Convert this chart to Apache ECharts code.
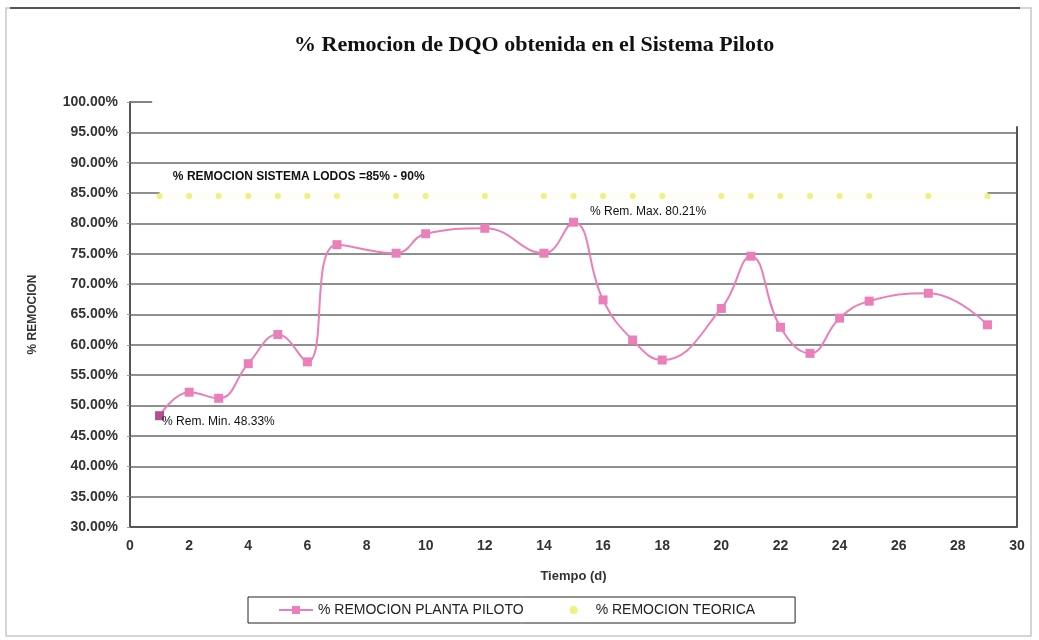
<!DOCTYPE html>
<html>
<head>
<meta charset="utf-8">
<script src="https://cdn.jsdelivr.net/npm/echarts@6/dist/echarts.min.js"></script>
<style>
  html, body { margin: 0; padding: 0; background: #fff; }
  #chart { width: 1039px; height: 640px; }
</style>
</head>
<body>
<div id="chart"></div>
<script>
// Días de operación del sistema piloto
const dias = [1, 2, 3, 4, 5, 6, 7, 9, 10, 12, 14, 15, 16, 17, 18, 20, 21, 22, 23, 24, 25, 27, 29];
// % de remoción de DQO medido en la planta piloto
const remocionPiloto = [48.33, 52.2, 51.2, 56.9, 61.7, 57.2, 76.5, 75.1, 78.3, 79.2, 75.1, 80.21,
  67.4, 60.8, 57.5, 66.0, 74.6, 62.9, 58.6, 64.4, 67.2, 68.5, 63.3];
// % de remoción teórico del sistema de lodos
const remocionTeorica = [84.5, 84.5, 84.5, 84.5, 84.5, 84.5, 84.5, 84.5, 84.5, 84.5, 84.5, 84.5,
  84.5, 84.5, 84.5, 84.5, 84.5, 84.5, 84.5, 84.5, 84.5, 84.5, 84.5];
// Ejes
const ejeX = { min: 0, max: 30, intervalo: 2 };
const ejeY = { min: 30, max: 100, intervalo: 5 };
const textoSistema = '% REMOCION SISTEMA LODOS =85% - 90%';

const idxMax = remocionPiloto.indexOf(Math.max(...remocionPiloto));
const idxMin = remocionPiloto.indexOf(Math.min(...remocionPiloto));

const PINK = '#ea7fba';
const fontSans = 'Liberation Sans, Arial, sans-serif';

const datosPiloto = dias.map((d, i) => {
  const item = { value: [d, remocionPiloto[i]] };
  if (i === idxMax) {
    item.label = {
      show: true, position: 'right', distance: 4, offset: [8, -10],
      formatter: '% Rem. Max. ' + remocionPiloto[i].toFixed(2) + '%',
      fontFamily: fontSans, fontSize: 12, color: '#111'
    };
  }
  if (i === idxMin) {
    item.itemStyle = { color: '#b4508f' };
    item.label = {
      show: true, position: 'right', distance: 0, offset: [-2, 6],
      formatter: '% Rem. Min. ' + remocionPiloto[i].toFixed(2) + '%',
      fontFamily: fontSans, fontSize: 12, color: '#111'
    };
  }
  return item;
});

const chart = echarts.init(document.getElementById('chart'), null, { renderer: 'canvas' });

chart.setOption({
  backgroundColor: '#fff',
  animation: false,
  title: {
    text: '% Remocion de DQO obtenida en el Sistema Piloto',
    left: 289,
    top: 29,
    textStyle: { fontFamily: 'Liberation Serif, Times New Roman, serif', fontWeight: 'bold', fontSize: 22, color: '#111' }
  },
  graphic: [
    {
      type: 'rect',
      shape: { x: 6, y: 8, width: 1025, height: 628 },
      style: { fill: 'none', stroke: '#c8c8c8', lineWidth: 1.5 },
      silent: true
    },
    {
      type: 'line',
      shape: { x1: 10, y1: 8, x2: 1020, y2: 8 },
      style: { stroke: '#555', lineWidth: 2 },
      silent: true
    }
  ],
  legend: {
    left: 248, top: 597,
    padding: [6, 40, 6, 30],
    itemGap: 32,
    itemWidth: 34, itemHeight: 10,
    borderColor: '#222', borderWidth: 1,
    textStyle: { fontFamily: fontSans, fontSize: 14, color: '#222' },
    data: ['% REMOCION PLANTA PILOTO', '% REMOCION TEORICA']
  },
  grid: { left: 130, right: 22, top: 102, bottom: 113 },
  xAxis: {
    type: 'value', min: ejeX.min, max: ejeX.max, interval: ejeX.intervalo,
    name: 'Tiempo (d)', nameLocation: 'middle', nameGap: 43,
    nameTextStyle: { fontFamily: fontSans, fontWeight: 'bold', fontSize: 13, color: '#333' },
    axisLine: { lineStyle: { color: '#555', width: 2 } },
    axisTick: { show: false },
    axisLabel: { margin: 12, fontFamily: fontSans, fontWeight: 'bold', fontSize: 14, color: '#333' },
    splitLine: { show: false }
  },
  yAxis: {
    type: 'value', min: ejeY.min, max: ejeY.max, interval: ejeY.intervalo,
    name: '% REMOCION', nameLocation: 'middle', nameGap: 91, nameRotate: 90,
    nameTextStyle: { fontFamily: fontSans, fontWeight: 'bold', fontSize: 12, color: '#333' },
    axisLine: { show: true, lineStyle: { color: '#555', width: 2 } },
    axisTick: { show: true, length: 3, lineStyle: { color: '#999' } },
    axisLabel: {
      margin: 12, fontFamily: fontSans, fontWeight: 'bold', fontSize: 14, color: '#333',
      formatter: v => v.toFixed(2) + '%'
    },
    splitLine: { show: true, showMaxLine: false, lineStyle: { color: '#6a6a6a', width: 1.6 } }
  },
  series: [
    {
      name: '% REMOCION TEORICA',
      type: 'line',
      data: dias.map((d, i) => [d, remocionTeorica[i]]),
      symbol: 'circle', symbolSize: 6,
      itemStyle: { color: 'rgba(232,232,80,0.7)' },
      lineStyle: { color: '#fefef7', width: 9 },
      z: 2,
      markPoint: {
        symbol: 'circle', symbolSize: 0,
        data: [{ coord: [1.45, 87.7] }],
        label: {
          show: true, position: 'inside', align: 'left', verticalAlign: 'middle',
          formatter: textoSistema,
          fontFamily: fontSans, fontWeight: 'bold', fontSize: 12, color: '#111'
        }
      }
    },
    {
      name: '% REMOCION PLANTA PILOTO',
      type: 'line',
      smooth: 0.45,
      data: datosPiloto,
      symbol: 'rect', symbolSize: 9,
      itemStyle: { color: PINK },
      lineStyle: { color: PINK, width: 2 },
      z: 3,
      markLine: {
        silent: true, symbol: 'none', label: { show: false },
        lineStyle: { color: '#555', width: 2, type: 'solid' },
        data: [
          [{ coord: [ejeX.max, ejeY.min] }, { coord: [ejeX.max, 96] }],
          [{ coord: [ejeX.min, ejeY.max], lineStyle: { color: '#666', width: 1.6 } }, { coord: [0.75, ejeY.max] }]
        ]
      }
    }
  ]
});
</script>
</body>
</html>
